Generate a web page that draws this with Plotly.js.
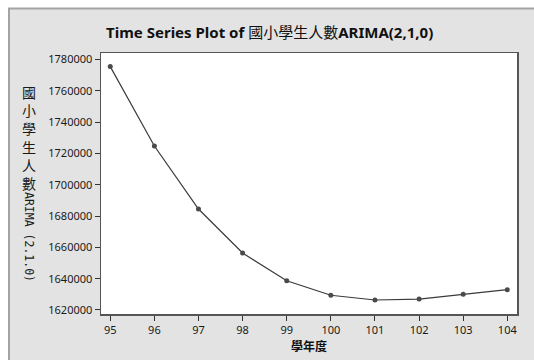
<!DOCTYPE html>
<html>
<head>
<meta charset="utf-8">
<script src="https://cdn.plot.ly/plotly-3.0.1.min.js"></script>
<style>html,body{margin:0;padding:0;background:#fff;}#chart{width:534px;height:360px;}</style>
</head>
<body>
<div id="chart"></div>
<script>
// Data
const years = [95, 96, 97, 98, 99, 100, 101, 102, 103, 104];
const students = [1775500, 1724800, 1684500, 1656400, 1638700, 1629400, 1626400, 1627000, 1630000, 1633000];
const yTickVals = [1620000, 1640000, 1660000, 1680000, 1700000, 1720000, 1740000, 1760000, 1780000];
const xTickVals = [95, 96, 97, 98, 99, 100, 101, 102, 103, 104];
const titleText = '<b>Time Series Plot of </b>國小學生人數<b>ARIMA(2,1,0)</b>';
const xTitleText = '學年度';
const yTitleChars = ['國', '小', '學', '生', '人', '數'];
const yTitleLatin = 'ARIMA (2.1.0)';

const W = 534, H = 360;
const mL = 101, mR = 17, mT = 53, mB = 46;
const pw = W - mL - mR, ph = H - mT - mB;
const px = v => (v - mL) / pw;          // pixel x -> paper x
const py = v => (H - mB - v) / ph;      // pixel y -> paper y

const cjk = '"Noto Sans CJK TC", "Noto Sans", sans-serif';
const tickFont = {family: '"Noto Sans", "Noto Sans CJK TC", sans-serif', size: 11, color: '#1a1a1a'};

const annotations = [
  { // vertical CJK part of the y-axis title, one character per line
    text: yTitleChars.join('<br>'), xref: 'paper', yref: 'paper', x: px(29), y: py(137.5),
    xanchor: 'center', yanchor: 'middle', showarrow: false, borderpad: 0,
    font: {family: cjk, size: 14, color: '#1a1a1a'}
  },
  { // Latin part, rotated as in vertical text
    text: yTitleLatin, xref: 'paper', yref: 'paper', x: px(29), y: py(237),
    xanchor: 'center', yanchor: 'middle', showarrow: false, textangle: 90, borderpad: 0,
    font: {family: '"DejaVu Sans Mono", monospace', size: 11.5, color: '#1a1a1a'}
  }
];

const trace = {
  x: years, y: students, type: 'scatter', mode: 'lines+markers',
  line: {color: '#3a3a3a', width: 1.2},
  marker: {color: '#4a4a4a', size: 5},
  hoverinfo: 'skip'
};

const layout = {
  width: W, height: H,
  margin: {l: mL, r: mR, t: mT, b: mB, pad: 0},
  paper_bgcolor: '#ffffff',
  plot_bgcolor: '#ffffff',
  showlegend: false,
  title: {
    text: titleText, xref: 'container', x: 0.505, xanchor: 'center',
    yref: 'container', y: 1 - 33 / H, yanchor: 'middle',
    font: {family: '"Noto Sans", "Noto Sans CJK TC", sans-serif', size: 15, color: '#111'}
  },
  xaxis: {
    range: [94.79, 104.22], tickvals: xTickVals, ticktext: xTickVals.map(String),
    ticks: 'outside', ticklen: 5, tickcolor: '#333', tickwidth: 1,
    showgrid: false, zeroline: false,
    showline: true, linecolor: '#555', linewidth: 1.5, mirror: true,
    tickfont: tickFont,
    title: {text: '<b>' + xTitleText + '</b>', standoff: 0, font: {family: cjk, size: 12, color: '#111'}}
  },
  yaxis: {
    range: [1617440, 1784200], tickvals: yTickVals, ticktext: yTickVals.map(String),
    ticks: 'outside', ticklen: 5, tickcolor: '#333', tickwidth: 1,
    showgrid: false, zeroline: false,
    showline: true, linecolor: '#555', linewidth: 1.5, mirror: true,
    tickfont: tickFont
  },
  shapes: [
    {type: 'rect', xref: 'paper', yref: 'paper', layer: 'below',
     x0: px(9), x1: px(W + 20), y0: py(H + 20), y1: py(8.5),
     fillcolor: '#e3e3e3', line: {color: '#a3a3a3', width: 2}},
    {type: 'rect', xref: 'paper', yref: 'paper', layer: 'below',
     x0: 0, x1: 1, y0: 0, y1: 1, fillcolor: '#ffffff', line: {width: 0}}
  ],
  annotations: annotations
};

Plotly.newPlot('chart', [trace], layout, {staticPlot: true, displayModeBar: false});
</script>
</body>
</html>
